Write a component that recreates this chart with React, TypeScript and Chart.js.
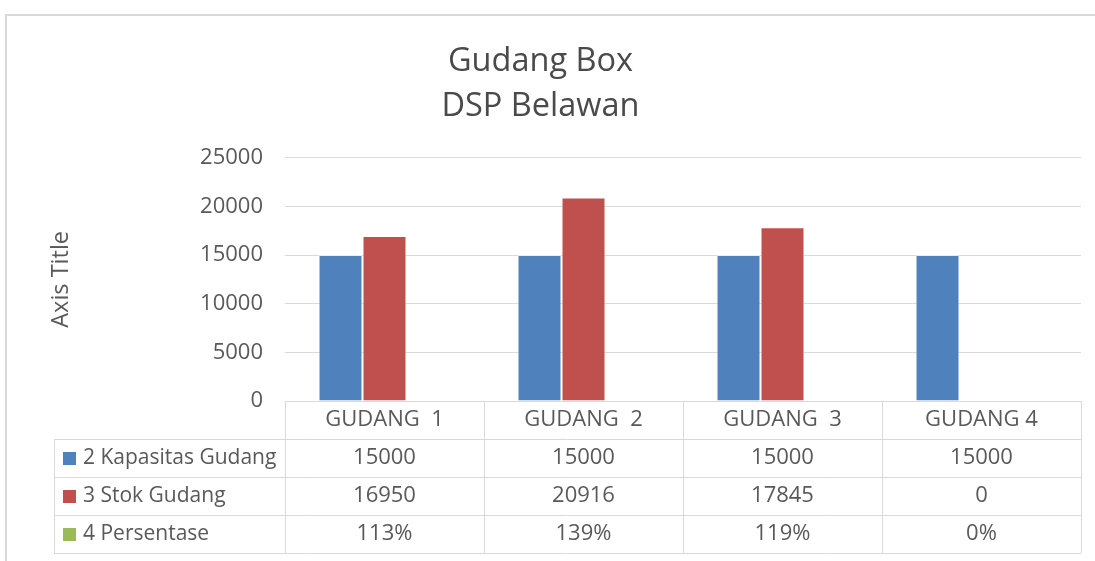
import React, { useEffect, useRef } from 'react';
import { Chart, registerables } from 'chart.js';

Chart.register(...registerables);

const titleLines = ['Gudang Box', 'DSP Belawan'];
const axisTitle = 'Axis Title';
const categories = ['GUDANG  1', 'GUDANG  2', 'GUDANG  3', 'GUDANG 4'];
const seriesNames = ['2 Kapasitas Gudang', '3 Stok Gudang', '4 Persentase'];
const kapasitas = [15000, 15000, 15000, 15000];
const stok = [16950, 20916, 17845, 0];
const persentase = [1.13, 1.39, 1.19, 0];
const yMax = 25000;
const yStep = 5000;
const seriesColors = ['#4F81BD', '#C0504D', '#9BBB59'];

const FONT = "'Open Sans', 'Segoe UI', sans-serif";
const TEXT = '#595959';
const GRID = '#d9d9d9';

// bars thinner than a pixel are not painted (as in the source rendering)
const fillFor = (color: string) => (c: any) => {
  const ys = c.chart.scales && c.chart.scales.y;
  if (!ys || c.raw == null) return color;
  const h = Math.abs(ys.getPixelForValue(c.raw) - ys.getPixelForValue(0));
  return h < 0.5 ? 'rgba(0,0,0,0)' : color;
};

const tablePlugin = {
  id: 'dataTable',
  beforeDraw(chart: any) {
    const ctx = chart.ctx;
    ctx.save();
    ctx.strokeStyle = GRID;
    ctx.lineWidth = 2;
    ctx.beginPath();
    ctx.moveTo(6, 561);
    ctx.lineTo(6, 15);
    ctx.lineTo(1095, 15);
    ctx.stroke();
    ctx.restore();
  },
  afterDraw(chart: any) {
    const ctx = chart.ctx;
    const area = chart.chartArea;
    const xs = chart.scales.x;
    const n = categories.length;
    const colW = (area.right - area.left) / n;
    const rowH = 38;
    const top = area.bottom;
    const tableLeft = 54;
    const rowYs = [top, top + rowH, top + 2 * rowH, top + 3 * rowH, top + 4 * rowH];

    ctx.save();
    ctx.strokeStyle = GRID;
    ctx.lineWidth = 1;
    ctx.beginPath();
    ctx.moveTo(area.left, Math.round(rowYs[0]) + 0.5);
    ctx.lineTo(area.right, Math.round(rowYs[0]) + 0.5);
    for (let r = 1; r < rowYs.length; r++) {
      const y = Math.round(rowYs[r]) + 0.5;
      ctx.moveTo(tableLeft, y);
      ctx.lineTo(area.right, y);
    }
    const lx = tableLeft + 0.5;
    ctx.moveTo(lx, rowYs[1]);
    ctx.lineTo(lx, rowYs[4]);
    for (let i = 0; i <= n; i++) {
      const x = Math.round(area.left + i * colW) + 0.5;
      ctx.moveTo(x, rowYs[0]);
      ctx.lineTo(x, rowYs[4]);
    }
    ctx.stroke();

    ctx.fillStyle = TEXT;
    ctx.font = `22px ${FONT}`;
    ctx.textBaseline = 'middle';
    ctx.textAlign = 'center';
    categories.forEach((c, i) => {
      ctx.fillText(c, xs.getPixelForValue(i), rowYs[0] + rowH / 2);
    });
    const rows = [
      kapasitas.map((v) => String(v)),
      stok.map((v) => String(v)),
      persentase.map((v) => Math.round(v * 100) + '%'),
    ];
    rows.forEach((vals, r) => {
      const cy = rowYs[r + 1] + rowH / 2;
      ctx.fillStyle = seriesColors[r];
      ctx.fillRect(63, Math.round(cy - 6.5), 13, 13);
      ctx.fillStyle = TEXT;
      ctx.textAlign = 'left';
      ctx.font = `21px ${FONT}`;
      ctx.fillText(seriesNames[r], 83, cy);
      ctx.textAlign = 'center';
      ctx.font = `22px ${FONT}`;
      vals.forEach((v, i) => {
        ctx.fillText(v, xs.getPixelForValue(i), cy);
      });
    });
    ctx.restore();
  },
};

export default function App() {
  const ref = useRef<HTMLCanvasElement | null>(null);

  useEffect(() => {
    if (!ref.current) return;
    const chart = new Chart(ref.current, {
      type: 'bar',
      data: {
        labels: categories,
        datasets: [
          { label: seriesNames[0], data: kapasitas, backgroundColor: fillFor(seriesColors[0]), borderWidth: 1 },
          { label: seriesNames[1], data: stok, backgroundColor: fillFor(seriesColors[1]), borderWidth: 1 },
          { label: seriesNames[2], data: persentase, backgroundColor: fillFor(seriesColors[2]), borderWidth: 0, inflateAmount: 0 },
        ].map((d) => ({
          ...d,
          borderColor: 'rgba(255,255,255,0.45)',
          categoryPercentage: 0.663,
          barPercentage: 1.0,
        })),
      },
      options: {
        responsive: false,
        animation: false,
        layout: { padding: { left: 0, right: 14, top: 0, bottom: 160 } },
        plugins: {
          legend: { display: false },
          tooltip: { enabled: false },
          title: {
            display: true,
            text: titleLines,
            color: '#4a4a4a',
            font: { family: FONT, size: 32.5, weight: 'normal', lineHeight: 1.38 },
            padding: { top: 39, bottom: 29 },
          },
        },
        scales: {
          x: {
            display: false,
          },
          y: {
            min: 0,
            max: yMax,
            ticks: {
              stepSize: yStep,
              color: TEXT,
              padding: 22,
              font: { family: FONT, size: 22 },
              callback: (v: any) => String(v),
            },
            grid: { color: GRID, drawTicks: false, lineWidth: 1 },
            border: { display: false },
            title: {
              display: true,
              text: axisTitle,
              color: TEXT,
              font: { family: FONT, size: 23.5 },
              padding: { top: 47, bottom: 0 },
            },
            afterFit(scale: any) {
              scale.width = 285;
            },
          },
        },
      },
      plugins: [tablePlugin],
    } as any);
    return () => chart.destroy();
  }, []);

  return (
    <div style={{ position: 'fixed', left: 0, top: 0, width: 1095, height: 561, background: '#fff' }}>
      <canvas ref={ref} width={1095} height={561} style={{ display: 'block' }} />
    </div>
  );
}
